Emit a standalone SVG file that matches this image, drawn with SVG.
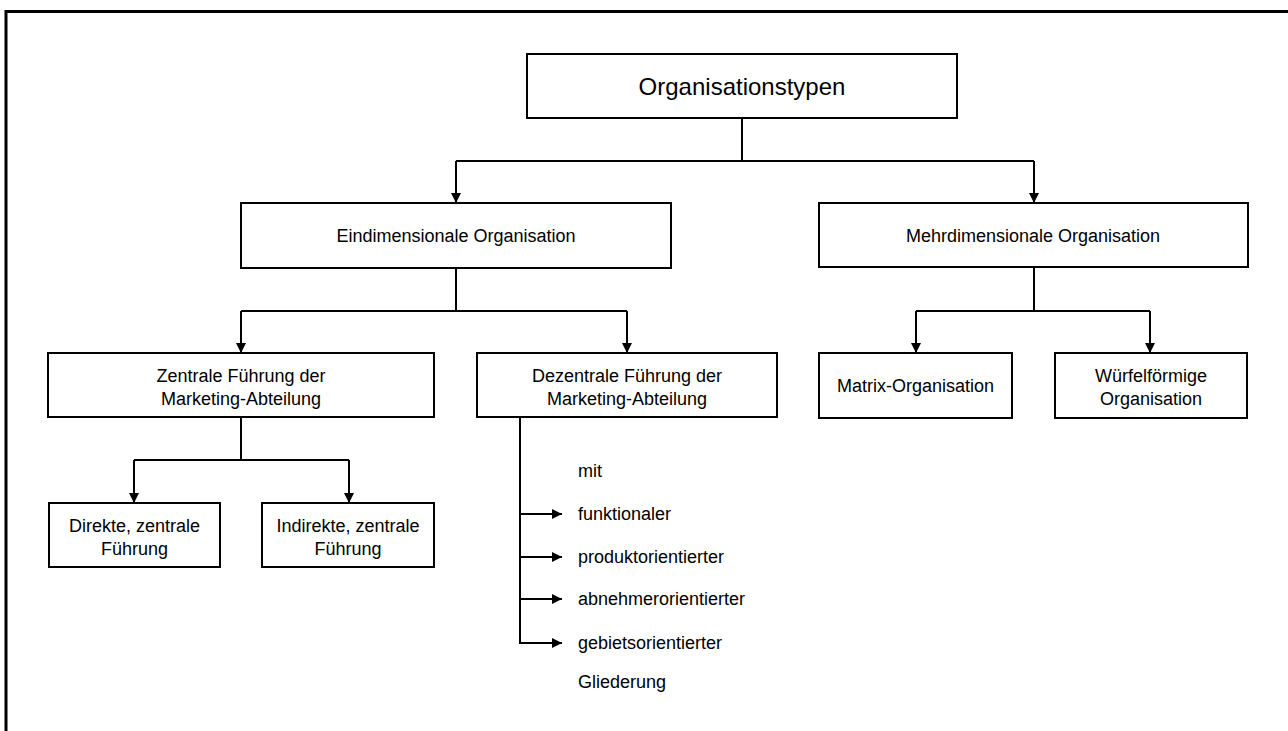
<svg xmlns="http://www.w3.org/2000/svg" width="1288" height="731" viewBox="0 0 1288 731">
  <style>
    .box { fill: #ffffff; stroke: #000000; stroke-width: 2; }
    .lbl { font-family: "Liberation Sans", Arial, sans-serif; font-size: 18px; fill: #000000; text-anchor: middle; }
    .big { font-size: 24px; }
    .item { font-family: "Liberation Sans", Arial, sans-serif; font-size: 18px; fill: #000000; }
    .wire { fill: none; stroke: #000000; stroke-width: 2; }
  </style>
  <defs>
    <marker id="tip" viewBox="0 0 10 10" refX="10" refY="5" markerWidth="10" markerHeight="10" markerUnits="userSpaceOnUse" orient="auto">
      <path d="M0,0 L10,5 L0,10 Z" fill="#000000"/>
    </marker>
  </defs>

  <rect width="1288" height="731" fill="#ffffff"/>
  <!-- outer frame -->
  <rect x="6" y="11.5" width="1320" height="760" fill="none" stroke="#000000" stroke-width="3"/>

  <!-- connectors -->
  <g id="connectors">
    <path class="wire" d="M742,118 V161"/>
    <path class="wire" d="M456,161 H1034"/>
    <path class="wire" d="M456,161 V203" marker-end="url(#tip)"/>
    <path class="wire" d="M1034,161 V203" marker-end="url(#tip)"/>

    <path class="wire" d="M456,268 V311"/>
    <path class="wire" d="M241,311 H627"/>
    <path class="wire" d="M241,311 V353" marker-end="url(#tip)"/>
    <path class="wire" d="M627,311 V353" marker-end="url(#tip)"/>

    <path class="wire" d="M1034,267 V311"/>
    <path class="wire" d="M916,311 H1150"/>
    <path class="wire" d="M916,311 V353" marker-end="url(#tip)"/>
    <path class="wire" d="M1150,311 V353" marker-end="url(#tip)"/>

    <path class="wire" d="M241,417 V460"/>
    <path class="wire" d="M134,460 H349"/>
    <path class="wire" d="M134,460 V503" marker-end="url(#tip)"/>
    <path class="wire" d="M349,460 V503" marker-end="url(#tip)"/>

    <path class="wire" d="M520,417 V644"/>
    <path class="wire" d="M519,514 H562" marker-end="url(#tip)"/>
    <path class="wire" d="M519,557 H562" marker-end="url(#tip)"/>
    <path class="wire" d="M519,599 H562" marker-end="url(#tip)"/>
    <path class="wire" d="M519,643 H562" marker-end="url(#tip)"/>
  </g>

  <g id="root">
    <rect class="box" x="527" y="54" width="430" height="64"/>
    <text class="lbl big" x="742" y="94.5">Organisationstypen</text>
  </g>

  <g id="eindimensional">
    <rect class="box" x="241" y="203" width="430" height="65"/>
    <text class="lbl" x="456" y="242">Eindimensionale Organisation</text>
  </g>

  <g id="mehrdimensional">
    <rect class="box" x="819" y="203" width="429" height="64"/>
    <text class="lbl" x="1033" y="242">Mehrdimensionale Organisation</text>
  </g>

  <g id="zentral">
    <rect class="box" x="48" y="353" width="386" height="64"/>
    <text class="lbl" x="241" y="381.5">Zentrale Führung der</text>
    <text class="lbl" x="241" y="404.5">Marketing-Abteilung</text>
  </g>

  <g id="dezentral">
    <rect class="box" x="477" y="353" width="300" height="64"/>
    <text class="lbl" x="627" y="381.5">Dezentrale Führung der</text>
    <text class="lbl" x="627" y="404.5">Marketing-Abteilung</text>
  </g>

  <g id="matrix">
    <rect class="box" x="819" y="353" width="193" height="65"/>
    <text class="lbl" x="915.5" y="392">Matrix-Organisation</text>
  </g>

  <g id="wuerfel">
    <rect class="box" x="1055" y="353" width="192" height="65"/>
    <text class="lbl" x="1151" y="381.5">Würfelförmige</text>
    <text class="lbl" x="1151" y="404.5">Organisation</text>
  </g>

  <g id="direkt">
    <rect class="box" x="49" y="503" width="171" height="64"/>
    <text class="lbl" x="134.5" y="531.5">Direkte, zentrale</text>
    <text class="lbl" x="134.5" y="554.5">Führung</text>
  </g>

  <g id="indirekt">
    <rect class="box" x="262" y="503" width="172" height="64"/>
    <text class="lbl" x="348" y="531.5">Indirekte, zentrale</text>
    <text class="lbl" x="348" y="554.5">Führung</text>
  </g>

  <g id="gliederung">
    <text class="item" x="578" y="477">mit</text>
    <text class="item" x="578" y="520">funktionaler</text>
    <text class="item" x="578" y="563">produktorientierter</text>
    <text class="item" x="578" y="605">abnehmerorientierter</text>
    <text class="item" x="578" y="649">gebietsorientierter</text>
    <text class="item" x="578" y="688">Gliederung</text>
  </g>
</svg>
